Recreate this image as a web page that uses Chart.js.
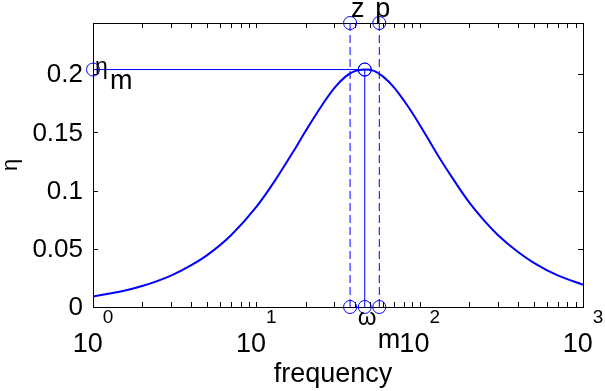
<!DOCTYPE html>
<html lang="en">
<head>
  <meta charset="UTF-8">
  <title>eta vs frequency</title>
  <script src="https://cdn.jsdelivr.net/npm/chart.js"></script>
  <style>
    html, body { margin: 0; padding: 0; background: #fff; }
    #chart { display: block; }
  </style>
</head>
<body>
  <canvas id="chart" width="605" height="391"></canvas>

  <script>
    // curve
    var freq = [1, 1.5, 2, 3, 4, 5, 7, 10, 13, 17, 20, 25, 30, 35, 40, 46, 52, 60, 70, 80, 90, 110, 130, 160, 200, 250, 300, 400, 500, 700, 1000];
    var eta  = [0.009, 0.0135, 0.018, 0.027, 0.036, 0.0446, 0.0617, 0.086, 0.1086, 0.1345, 0.151, 0.1725, 0.188, 0.1977, 0.2026, 0.204,
                0.2031, 0.1977, 0.1883, 0.1774, 0.1669, 0.1469, 0.1297, 0.1101, 0.0903, 0.0738, 0.0621, 0.0472, 0.038, 0.0271, 0.0191];

    // markers
    var zFreq = 37.5;
    var pFreq = 56.6;
    var wmFreq = 46.1;
    var etaMax = 0.204;
    var yTop = 0.244;

    var xTickValues = [1, 10, 100, 1000];
    var xTickExp = ['0', '1', '2', '3'];
    var yTickValues = [0, 0.05, 0.1, 0.15, 0.2];
    var yTickLabels = ['0', '0.05', '0.1', '0.15', '0.2'];

    var BLUE = '#0000ff';
    var FONT = '"Liberation Sans", Arial, Helvetica, sans-serif';

    function markerLine(xs, ys, dashed) {
      return {
        data: [{ x: xs[0], y: ys[0] }, { x: xs[1], y: ys[1] }],
        showLine: true,
        borderColor: BLUE,
        borderWidth: 1,
        borderDash: dashed ? [8, 4] : [],
        pointStyle: 'circle',
        pointRadius: 6.5,
        pointBorderWidth: 1,
        pointBorderColor: BLUE,
        pointBackgroundColor: 'rgba(0,0,0,0)',
        clip: false
      };
    }

    // box, inward ticks, labels and text annotations
    var axesPlugin = {
      id: 'matlabAxes',
      beforeDatasetsDraw: function(chart) {
        var ctx = chart.ctx, a = chart.chartArea;
        var xs = chart.scales.x, ys = chart.scales.y;
        var tl = 5;
        ctx.save();
        ctx.strokeStyle = '#000';
        ctx.lineWidth = 1;
        ctx.strokeRect(Math.round(a.left) + 0.5, Math.round(a.top) + 0.5,
                       Math.round(a.right - a.left), Math.round(a.bottom - a.top));
        ctx.beginPath();
        for (var d = 1; d <= 1000; d *= 10) {
          for (var m = 1; m <= 9; m++) {
            var v = d * m;
            if (v > 1000) break;
            var px = Math.round(xs.getPixelForValue(v)) + 0.5;
            ctx.moveTo(px, a.bottom); ctx.lineTo(px, a.bottom - tl);
            ctx.moveTo(px, a.top); ctx.lineTo(px, a.top + tl);
          }
        }
        yTickValues.forEach(function(v) {
          var py = Math.round(ys.getPixelForValue(v)) + 0.5;
          ctx.moveTo(a.left, py); ctx.lineTo(a.left + tl, py);
          ctx.moveTo(a.right, py); ctx.lineTo(a.right - tl, py);
        });
        ctx.stroke();
        ctx.restore();
      },
      afterDatasetsDraw: function(chart) {
        var ctx = chart.ctx, a = chart.chartArea;
        var xs = chart.scales.x, ys = chart.scales.y;
        ctx.save();
        ctx.fillStyle = '#000';

        // y tick labels
        ctx.font = '26px ' + FONT;
        ctx.textAlign = 'right';
        ctx.textBaseline = 'middle';
        yTickValues.forEach(function(v, i) {
          ctx.fillText(yTickLabels[i], a.left - 10, ys.getPixelForValue(v) + 1);
        });

        // x tick labels 10^k
        ctx.textBaseline = 'alphabetic';
        xTickValues.forEach(function(v, i) {
          var cx = xs.getPixelForValue(v);
          ctx.font = '27px ' + FONT;
          var bw = ctx.measureText('10').width;
          ctx.font = '19px ' + FONT;
          var ew = ctx.measureText(xTickExp[i]).width;
          var left = cx - (bw + ew) / 2;
          ctx.textAlign = 'left';
          ctx.font = '27px ' + FONT;
          ctx.fillText('10', left, 352);
          ctx.font = '19px ' + FONT;
          ctx.fillText(xTickExp[i], left + bw, 323);
        });

        // axis titles
        ctx.font = '27px ' + FONT;
        ctx.textAlign = 'center';
        ctx.fillText('frequency', (a.left + a.right) / 2 - 5, 382);

        ctx.save();
        ctx.translate(17, 165);
        ctx.rotate(-Math.PI / 2);
        ctx.font = '22px ' + FONT;
        ctx.textAlign = 'center';
        ctx.fillText('\u03b7', 0, 0);
        ctx.restore();

        // annotations
        ctx.textAlign = 'left';
        ctx.font = '27px ' + FONT;
        ctx.fillText('z', xs.getPixelForValue(zFreq) + 1, 17);
        ctx.fillText('p', xs.getPixelForValue(pFreq) - 4, 17);

        var ey = ys.getPixelForValue(etaMax);
        ctx.font = '23px ' + FONT;
        ctx.fillText('\u03b7', a.left + 2, ey + 4);
        ctx.font = '27px ' + FONT;
        ctx.fillText('m', a.left + 17, ey + 19);

        var wx = xs.getPixelForValue(wmFreq);
        ctx.font = '24px ' + FONT;
        ctx.fillText('\u03c9', wx - 7, a.bottom + 18);
        ctx.font = '27px ' + FONT;
        ctx.fillText('m', wx + 13, a.bottom + 41);

        ctx.restore();
      }
    };

    var curve = freq.map(function(f, i) { return { x: f, y: eta[i] }; });

    new Chart(document.getElementById('chart'), {
      type: 'scatter',
      data: {
        datasets: [
          {
            data: curve,
            showLine: true,
            borderColor: BLUE,
            borderWidth: 2,
            pointRadius: 0,
            cubicInterpolationMode: 'monotone',
            fill: false
          },
          markerLine([zFreq, zFreq], [0, yTop], true),
          markerLine([pFreq, pFreq], [0, yTop], true),
          markerLine([wmFreq, wmFreq], [0, etaMax], false),
          markerLine([1, wmFreq], [etaMax, etaMax], false)
        ]
      },
      options: {
        responsive: false,
        animation: false,
        layout: { padding: { left: 93, right: 22, top: 23, bottom: 84 } },
        plugins: { legend: { display: false }, tooltip: { enabled: false } },
        scales: {
          x: { type: 'logarithmic', min: 1, max: 1000, display: false },
          y: { type: 'linear', min: 0, max: yTop, display: false }
        }
      },
      plugins: [axesPlugin]
    });
  </script>
</body>
</html>
